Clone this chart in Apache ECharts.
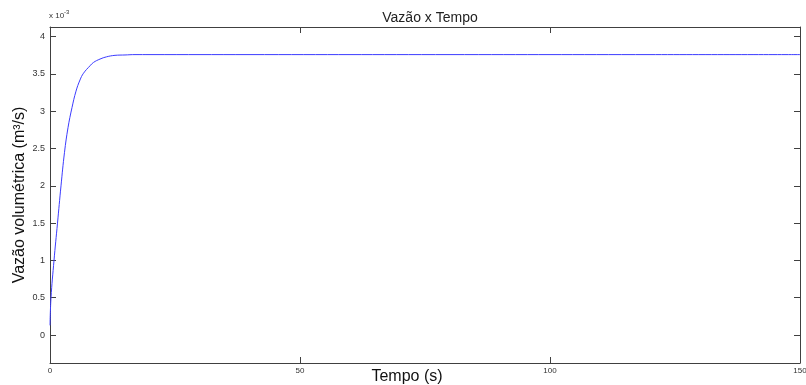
<!DOCTYPE html>
<html>
<head>
<meta charset="utf-8">
<script src="https://cdn.jsdelivr.net/npm/echarts@6/dist/echarts.min.js"></script>
<style>
html, body { margin: 0; padding: 0; background: #fff; }
#chart { width: 806px; height: 385px; }
</style>
</head>
<body>
<div id="chart"></div>
<script>
var myChart = echarts.init(document.getElementById('chart'));

// tempo (s) e vazão (x 10^-3 m³/s)
var tempo = [0, 0.2, 0.8, 1.5, 2.2, 2.9, 3.6, 4.4, 5.2, 6.0, 6.7, 8.0, 8.7, 10, 11.3, 13, 15, 17, 20, 40, 80, 120, 150];
var vazao = [0.13, 0.5, 1.0, 1.5, 2.0, 2.45, 2.78, 3.05, 3.27, 3.42, 3.51, 3.61, 3.655, 3.70, 3.73, 3.75, 3.755, 3.76, 3.76, 3.76, 3.76, 3.76, 3.76];
var yTicks = [0, 0.5, 1, 1.5, 2, 2.5, 3, 3.5, 4];
var xTicks = [0, 50, 100, 150];

var axisColor = '#404040';
var font = 'Liberation Sans, Arial, sans-serif';

var points = tempo.map(function (t, i) { return [t, vazao[i]]; });

var option = {
    backgroundColor: '#fff',
    animation: false,
    title: {
        text: 'Vazão x Tempo',
        left: 425,
        textAlign: 'center',
        top: 6,
        textStyle: { fontFamily: font, fontSize: 14, fontWeight: 'normal', color: '#222' }
    },
    grid: { left: 50, right: 6, top: 27, bottom: 22, containLabel: false, outerBoundsMode: 'none' },
    xAxis: [{
        type: 'value',
        min: 0, max: 150,
        axisLine: { show: true, onZero: false, lineStyle: { color: axisColor } },
        axisTick: { show: true, inside: true, length: 6, customValues: xTicks, lineStyle: { color: axisColor } },
        axisLabel: { customValues: xTicks, fontFamily: font, fontSize: 8, color: '#333', margin: 4, showMaxLabel: true },
        splitLine: { show: false }
    }, {
        type: 'value',
        position: 'top',
        min: 0, max: 150,
        axisLine: { show: true, onZero: false, lineStyle: { color: axisColor } },
        axisTick: { show: true, inside: true, length: 6, customValues: xTicks, lineStyle: { color: axisColor } },
        axisLabel: { show: false },
        splitLine: { show: false }
    }],
    yAxis: [{
        type: 'value',
        min: -0.375, max: 4.13,
        axisLine: { show: true, onZero: false, lineStyle: { color: axisColor } },
        axisTick: { show: true, inside: true, length: 6, customValues: yTicks, lineStyle: { color: axisColor } },
        axisLabel: { customValues: yTicks, fontFamily: font, fontSize: 9, color: '#333', margin: 5 },
        splitLine: { show: false }
    }, {
        type: 'value',
        position: 'right',
        min: -0.375, max: 4.13,
        axisLine: { show: true, onZero: false, lineStyle: { color: axisColor } },
        axisTick: { show: true, inside: true, length: 6, customValues: yTicks, lineStyle: { color: axisColor } },
        axisLabel: { show: false },
        splitLine: { show: false }
    }],
    graphic: [{
        type: 'text',
        left: 49,
        top: 12,
        style: { text: 'x 10', fontFamily: font, fontSize: 8, fill: '#333' }
    }, {
        type: 'text',
        left: 64,
        top: 9,
        style: { text: '-3', fontFamily: font, fontSize: 6, fill: '#333' }
    }, {
        type: 'text',
        x: 407,
        y: 377,
        style: { text: 'Tempo (s)', fontFamily: font, fontSize: 16, fill: '#111', align: 'center', verticalAlign: 'middle' }
    }, {
        type: 'text',
        x: 20,
        y: 195,
        rotation: Math.PI / 2,
        style: { text: 'Vazão volumétrica (m³/s)', fontFamily: font, fontSize: 16, fill: '#111', align: 'center', verticalAlign: 'middle' }
    }],
    series: [{
        name: 'Vazão',
        type: 'line',
        data: points,
        smooth: 0.4,
        showSymbol: false,
        lineStyle: { color: '#3c3cff', width: 1 }
    }]
};

myChart.setOption(option);
</script>
</body>
</html>
